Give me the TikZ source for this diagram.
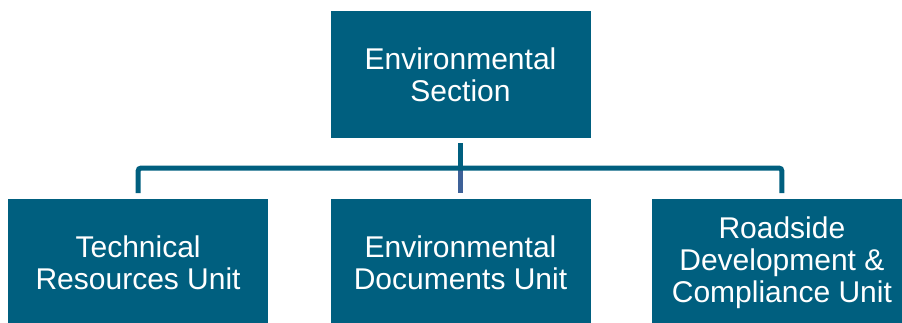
\documentclass[tikz,border=0pt]{standalone}
\usepackage{fontspec}
\setmainfont{Liberation Sans}
\usetikzlibrary{positioning}
\definecolor{boxteal}{HTML}{005F7F}
\definecolor{linkblue}{HTML}{3E6198}
\tikzset{
  unit/.style = {fill=boxteal, text=white, rectangle, minimum width=260pt, minimum height=127pt, inner sep=0pt, align=center, font=\fontsize{30}{32}\selectfont},
  link/.style = {draw=boxteal, line width=5pt},
}

\begin{document}
\begin{tikzpicture}[x=1pt, y=-1pt, node distance=61pt and 62pt]
        \useasboundingbox (0,0) rectangle (902,322);
        \clip (0,0) rectangle (902,322);
        \node[unit] (sec) at (460.5,74.5) {Environmental\\Section};
        \node[unit, below=of sec] (doc) {Environmental\\Documents Unit};
        \node[unit, left=of doc] (tech) {Technical\\Resources Unit};
        \node[unit, right=61pt of doc] (road) {Roadside\\Development \&\\Compliance Unit};
        \coordinate (bar) at (460.5,168);
        \draw[link] ([yshift=-5pt]sec.south) -- (bar);
        \draw[link, draw=linkblue] (bar) -- ([yshift=6pt]doc.north);
        \draw[link, rounded corners=3pt] ([yshift=6pt]tech.north) |- (bar) -| ([yshift=6pt]road.north);
    \end{tikzpicture}
\end{document}
